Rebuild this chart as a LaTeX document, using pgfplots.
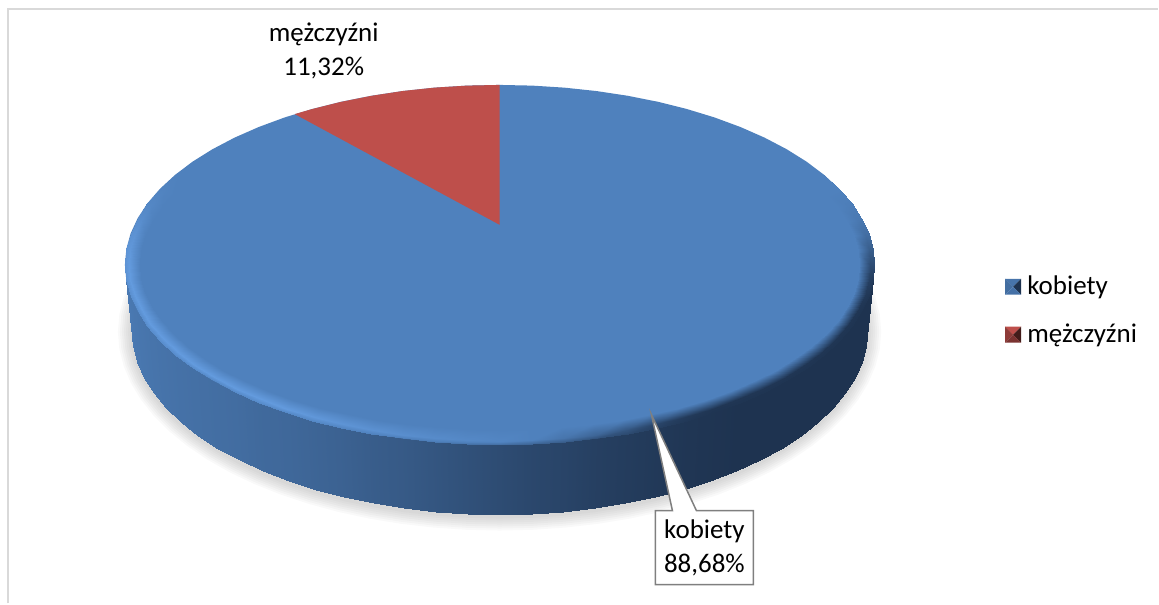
\documentclass[border=0pt]{standalone}
\usepackage{fontspec}
\setmainfont{Carlito}
\usepackage{pgfplots}
\usepackage{pgfplotstable}
\pgfplotsset{compat=1.18}

\definecolor{topblue}{HTML}{4F81BD}
\definecolor{topred}{HTML}{BE4F4B}
\definecolor{navy}{HTML}{1E3350}
\definecolor{lightrim}{HTML}{6CA6EC}
\definecolor{frame}{HTML}{D9D9D9}
\definecolor{callout}{HTML}{7F7F7F}

% unit circle, 5 degree steps (y points down)
\pgfplotstableread{
c s
1 0
.9962 .0872
.9848 .1736
.9659 .2588
.9397 .3420
.9063 .4226
.8660 .5
.8192 .5736
.7660 .6428
.7071 .7071
.6428 .7660
.5736 .8192
.5 .8660
.4226 .9063
.3420 .9397
.2588 .9659
.1736 .9848
.0872 .9962
0 1
-.0872 .9962
-.1736 .9848
-.2588 .9659
-.3420 .9397
-.4226 .9063
-.5 .8660
-.5736 .8192
-.6428 .7660
-.7071 .7071
-.7660 .6428
-.8192 .5736
-.8660 .5
-.9063 .4226
-.9397 .3420
-.9659 .2588
-.9848 .1736
-.9962 .0872
-1 0
-.9962 -.0872
-.9848 -.1736
-.9659 -.2588
-.9397 -.3420
-.9063 -.4226
-.8660 -.5
-.8192 -.5736
-.7660 -.6428
-.7071 -.7071
-.6428 -.7660
-.5736 -.8192
-.5 -.8660
-.4226 -.9063
-.3420 -.9397
-.2588 -.9659
-.1736 -.9848
-.0872 -.9962
0 -1
.0872 -.9962
.1736 -.9848
.2588 -.9659
.3420 -.9397
.4226 -.9063
.5 -.8660
.5736 -.8192
.6428 -.7660
.7071 -.7071
.7660 -.6428
.8192 -.5736
.8660 -.5
.9063 -.4226
.9397 -.3420
.9659 -.2588
.9848 -.1736
.9962 -.0872
1 0
}\unitcircle

% side wall: t=0 top edge, t=1 bottom edge, m = colour
\pgfplotstableread{
c s t m
1 0 0 0
.9962 .0872 0 0
.9848 .1736 0 0
.9659 .2588 0 0
.9397 .3420 0 0
.9063 .4226 0 0
.8660 .5 0 0
.8192 .5736 0 0
.7660 .6428 0 0
.7071 .7071 0 0
.6428 .7660 0 0
.5736 .8192 0 .01
.5 .8660 0 .02
.4226 .9063 0 .04
.3420 .9397 0 .06
.2588 .9659 0 .08
.1736 .9848 0 .11
.0872 .9962 0 .13
0 1 0 .16
-.0872 .9962 0 .19
-.1736 .9848 0 .22
-.2588 .9659 0 .25
-.3420 .9397 0 .27
-.4226 .9063 0 .30
-.5 .8660 0 .32
-.5736 .8192 0 .34
-.6428 .7660 0 .35
-.7071 .7071 0 .37
-.7660 .6428 0 .38
-.8192 .5736 0 .39
-.8660 .5 0 .40
-.9063 .4226 0 .41
-.9397 .3420 0 .42
-.9659 .2588 0 .43
-.9848 .1736 0 .44
-.9962 .0872 0 .45
-1 0 0 .45
1 0 1 0
.9962 .0872 1 0
.9848 .1736 1 0
.9659 .2588 1 0
.9397 .3420 1 0
.9063 .4226 1 0
.8660 .5 1 0
.8192 .5736 1 0
.7660 .6428 1 0
.7071 .7071 1 0
.6428 .7660 1 0
.5736 .8192 1 .01
.5 .8660 1 .02
.4226 .9063 1 .04
.3420 .9397 1 .06
.2588 .9659 1 .08
.1736 .9848 1 .11
.0872 .9962 1 .13
0 1 1 .16
-.0872 .9962 1 .19
-.1736 .9848 1 .22
-.2588 .9659 1 .25
-.3420 .9397 1 .27
-.4226 .9063 1 .30
-.5 .8660 1 .32
-.5736 .8192 1 .34
-.6428 .7660 1 .35
-.7071 .7071 1 .37
-.7660 .6428 1 .38
-.8192 .5736 1 .39
-.8660 .5 1 .40
-.9063 .4226 1 .41
-.9397 .3420 1 .42
-.9659 .2588 1 .43
-.9848 .1736 1 .44
-.9962 .0872 1 .45
-1 0 1 .45
}\walltable

% bevel round the top face: t is the inset in pixels, m the colour
\pgfplotstableread{
c s t m
.8660 -.5 0 .5
.9063 -.4226 0 .5
.9397 -.3420 0 .48
.9659 -.2588 0 .45
.9848 -.1736 0 .38
.9962 -.0872 0 .28
1 0 0 .16
.9962 .0872 0 .05
.9848 .1736 0 .02
.9659 .2588 0 .01
.9397 .3420 0 .01
.9063 .4226 0 .01
.8660 .5 0 .01
.8192 .5736 0 .01
.7660 .6428 0 .01
.7071 .7071 0 .01
.6428 .7660 0 .01
.5736 .8192 0 .01
.5 .8660 0 .03
.4226 .9063 0 .08
.3420 .9397 0 .14
.2588 .9659 0 .20
.1736 .9848 0 .26
.0872 .9962 0 .32
0 1 0 .36
-.0872 .9962 0 .40
-.1736 .9848 0 .44
-.2588 .9659 0 .48
-.3420 .9397 0 .50
-.4226 .9063 0 .54
-.5 .8660 0 .58
-.5736 .8192 0 .60
-.6428 .7660 0 .62
-.7071 .7071 0 .62
-.7660 .6428 0 .62
-.8192 .5736 0 .64
-.8660 .5 0 .64
-.9063 .4226 0 .66
-.9397 .3420 0 .66
-.9659 .2588 0 .68
-.9848 .1736 0 .70
-.9962 .0872 0 .72
-1 0 0 .75
-.9962 -.0872 0 .75
-.9848 -.1736 0 .72
-.9659 -.2588 0 .66
-.9397 -.3420 0 .58
-.9063 -.4226 0 .53
-.8660 -.5 0 .5
.8660 -.5 4 .5
.9063 -.4226 4 .5
.9397 -.3420 4 .48
.9659 -.2588 4 .45
.9848 -.1736 4 .38
.9962 -.0872 4 .28
1 0 4 .16
.9962 .0872 4 .08
.9848 .1736 4 .04
.9659 .2588 4 .02
.9397 .3420 4 .02
.9063 .4226 4 .02
.8660 .5 4 .02
.8192 .5736 4 .02
.7660 .6428 4 .02
.7071 .7071 4 .02
.6428 .7660 4 .02
.5736 .8192 4 .02
.5 .8660 4 .05
.4226 .9063 4 .12
.3420 .9397 4 .22
.2588 .9659 4 .32
.1736 .9848 4 .42
.0872 .9962 4 .50
0 1 4 .56
-.0872 .9962 4 .60
-.1736 .9848 4 .64
-.2588 .9659 4 .68
-.3420 .9397 4 .72
-.4226 .9063 4 .76
-.5 .8660 4 .80
-.5736 .8192 4 .84
-.6428 .7660 4 .85
-.7071 .7071 4 .85
-.7660 .6428 4 .85
-.8192 .5736 4 .85
-.8660 .5 4 .85
-.9063 .4226 4 .85
-.9397 .3420 4 .85
-.9659 .2588 4 .85
-.9848 .1736 4 .85
-.9962 .0872 4 .85
-1 0 4 .85
-.9962 -.0872 4 .80
-.9848 -.1736 4 .74
-.9659 -.2588 4 .66
-.9397 -.3420 4 .58
-.9063 -.4226 4 .53
-.8660 -.5 4 .5
.8660 -.5 15 .5
.9063 -.4226 15 .5
.9397 -.3420 15 .5
.9659 -.2588 15 .5
.9848 -.1736 15 .5
.9962 -.0872 15 .5
1 0 15 .5
.9962 .0872 15 .5
.9848 .1736 15 .5
.9659 .2588 15 .5
.9397 .3420 15 .5
.9063 .4226 15 .5
.8660 .5 15 .5
.8192 .5736 15 .5
.7660 .6428 15 .5
.7071 .7071 15 .5
.6428 .7660 15 .5
.5736 .8192 15 .5
.5 .8660 15 .5
.4226 .9063 15 .5
.3420 .9397 15 .5
.2588 .9659 15 .5
.1736 .9848 15 .5
.0872 .9962 15 .5
0 1 15 .5
-.0872 .9962 15 .5
-.1736 .9848 15 .5
-.2588 .9659 15 .5
-.3420 .9397 15 .5
-.4226 .9063 15 .5
-.5 .8660 15 .5
-.5736 .8192 15 .5
-.6428 .7660 15 .5
-.7071 .7071 15 .5
-.7660 .6428 15 .5
-.8192 .5736 15 .5
-.8660 .5 15 .5
-.9063 .4226 15 .5
-.9397 .3420 15 .5
-.9659 .2588 15 .5
-.9848 .1736 15 .5
-.9962 .0872 15 .5
-1 0 15 .5
-.9962 -.0872 15 .5
-.9848 -.1736 15 .5
-.9659 -.2588 15 .5
-.9397 -.3420 15 .5
-.9063 -.4226 15 .5
-.8660 -.5 15 .5
}\bevel

\begin{document}
\begin{tikzpicture}
\begin{axis}[
  width=1159pt, height=604pt, scale only axis,
  xmin=0, xmax=1159, ymin=0, ymax=604,
  y dir=reverse,
  hide axis, clip=false,
  point meta min=0, point meta max=1,
  colormap={pie}{color(0)=(navy) color(0.5)=(topblue) color(1)=(lightrim)},
  every axis plot/.append style={draw=none},
]
% keeps the page as large as the axis
\addplot[draw=none] coordinates {(0,0)(1159,604)};

% frame, only top and left are visible
\addplot[draw=frame, line width=2pt] coordinates {(8,604)(8,9.5)(1159,9.5)};

% soft shadow under the disc
\pgfplotsinvokeforeach{2,4,...,14}{
  \addplot[fill=black, fill opacity=.025] table[x expr=500+(368+#1)*\thisrow{c}, y expr=332+(185+#1)*\thisrow{s}] {\unitcircle};
}

% side wall
\addplot[surf, shader=interp, mesh/cols=37, point meta=\thisrow{m}] table[
  x expr=500+(375-7*\thisrow{t})*\thisrow{c},
  y expr=265+65*\thisrow{t}+(180+5*\thisrow{t})*\thisrow{s}] {\walltable};

% top face
\addplot[fill=topblue] table[x expr=500+375*\thisrow{c}, y expr=265+180*\thisrow{s}] {\unitcircle};

% bevel
\addplot[surf, shader=interp, mesh/cols=49, point meta=\thisrow{m}] table[
  x expr=500+(375-\thisrow{t})*\thisrow{c},
  y expr=265+(180-\thisrow{t})*\thisrow{s}] {\bevel};

% red slice
\addplot[fill=topred] coordinates {(500,225)(500,85)(467.3,85.7)(434.9,87.7)(403,91.1)(371.7,95.9)(341.5,101.9)(312.5,109.1)(295,114.2)} -- cycle;

% callout
\addplot[fill=white, draw=callout, line width=1.5pt] coordinates {(656,511)(673,511)(652,415)(697,511)(754,511)(754,585)(656,585)} -- cycle;
\node[font=\fontsize{27}{34}\selectfont, align=center] at (axis cs:705,548) {kobiety\\88,68\%};

% label of the small slice
\node[font=\fontsize{27}{34}\selectfont, align=center] at (axis cs:324,51) {mężczyźni\\11,32\%};

% legend keys
\addplot[fill=topblue!90!black] coordinates {(1006,279)(1022,279)(1014,287)} -- cycle;
\addplot[fill=navy] coordinates {(1022,279)(1022,295)(1014,287)} -- cycle;
\addplot[fill=topblue!85!black] coordinates {(1006,279)(1006,295)(1014,287)} -- cycle;
\addplot[fill=topblue!80!navy] coordinates {(1006,295)(1022,295)(1014,287)} -- cycle;
\addplot[fill=topred] coordinates {(1006,327)(1022,327)(1014,335)} -- cycle;
\addplot[fill=topred!35!black] coordinates {(1022,327)(1022,343)(1014,335)} -- cycle;
\addplot[fill=topred!75!black] coordinates {(1006,327)(1006,343)(1014,335)} -- cycle;
\addplot[fill=topred!65!black] coordinates {(1006,343)(1022,343)(1014,335)} -- cycle;
\node[font=\fontsize{27}{34}\selectfont, anchor=base west, inner sep=0pt] at (axis cs:1028,295) {kobiety};
\node[font=\fontsize{27}{34}\selectfont, anchor=base west, inner sep=0pt] at (axis cs:1028,343) {mężczyźni};
\end{axis}
\end{tikzpicture}
\end{document}
